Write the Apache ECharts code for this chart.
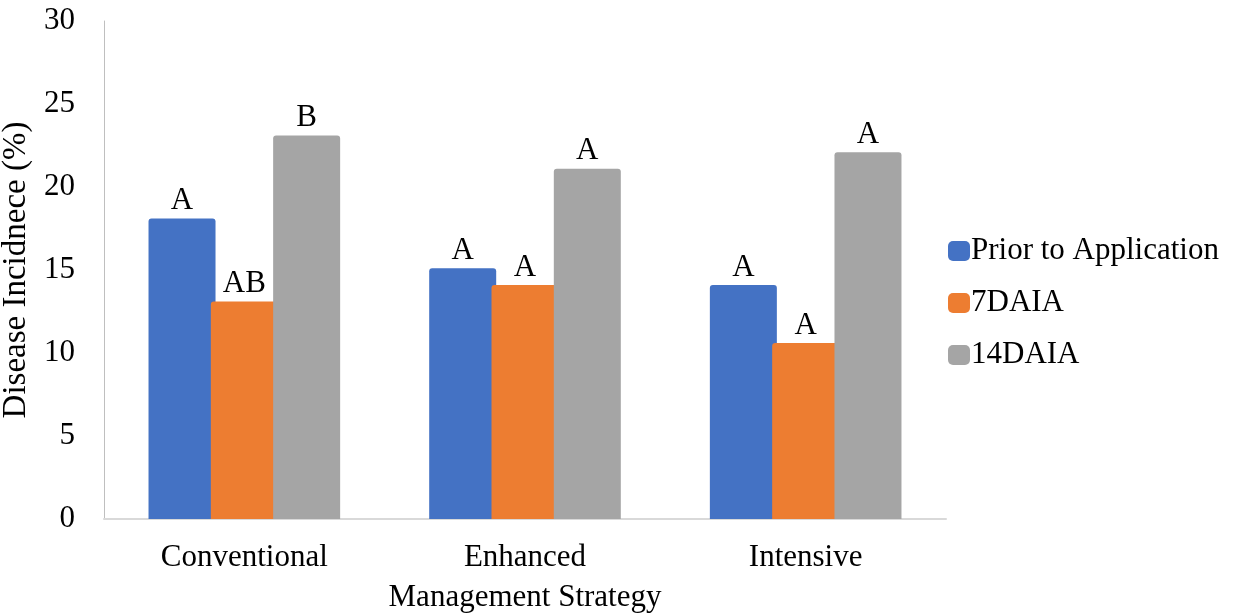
<!DOCTYPE html>
<html>
<head>
<meta charset="utf-8">
<script src="https://cdn.jsdelivr.net/npm/echarts@6/dist/echarts.min.js"></script>
<style>
  html, body { margin: 0; padding: 0; background: #fff; }
  #chart { width: 1236px; height: 615px; }
</style>
</head>
<body>
<div id="chart"></div>
<script>
// Chart data
const categories = ['Conventional', 'Enhanced', 'Intensive'];
const seriesNames = ['Prior to Application', '7DAIA', '14DAIA'];
const priorValues = [18.1, 15.1, 14.1];
const day7Values = [13.1, 14.1, 10.6];
const day14Values = [23.1, 21.1, 22.1];
const priorLetters = ['A', 'A', 'A'];
const day7Letters = ['AB', 'A', 'A'];
const day14Letters = ['B', 'A', 'A'];
const yTicks = [0, 5, 10, 15, 20, 25, 30];

const fontFamily = '"Liberation Serif", "Times New Roman", serif';
const colors = ['#4472C4', '#ED7D31', '#A5A5A5'];

function makeSeries(name, values, letters, color) {
    return {
        name: name,
        type: 'bar',
        data: values,
        barWidth: 67,
        barGap: '-7%',
        itemStyle: { color: color, borderRadius: [3, 3, 0, 0] },
        label: {
            show: true,
            position: 'top',
            distance: 2,
            fontFamily: fontFamily,
            fontSize: 31,
            color: '#000',
            formatter: p => letters[p.dataIndex]
        }
    };
}

const chart = echarts.init(document.getElementById('chart'));
chart.setOption({
    animation: false,
    textStyle: { fontFamily: fontFamily, color: '#000' },
    grid: { left: 104, right: 290, top: 21, bottom: 96, containLabel: false, outerBoundsMode: 'none' },
    legend: {
        orient: 'vertical',
        left: 943,
        top: 230,
        itemWidth: 22,
        itemHeight: 20,
        itemGap: 20,
        icon: 'roundRect',
        textStyle: { fontFamily: fontFamily, fontSize: 31, lineHeight: 32, color: '#000', padding: [0, 0, 0, -4] },
        data: seriesNames
    },
    xAxis: {
        type: 'category',
        data: categories,
        name: 'Management Strategy',
        nameLocation: 'middle',
        nameGap: 63,
        nameTextStyle: { fontFamily: fontFamily, fontSize: 31, color: '#000' },
        axisLine: { lineStyle: { color: '#d9d9d9', width: 2 } },
        axisTick: { show: false },
        axisLabel: { fontFamily: fontFamily, fontSize: 31, color: '#000', margin: 23 }
    },
    yAxis: {
        type: 'value',
        min: yTicks[0],
        max: yTicks[yTicks.length - 1],
        interval: yTicks[1] - yTicks[0],
        name: 'Disease Incidnece (%)',
        nameLocation: 'middle',
        nameGap: 66,
        nameTextStyle: { fontFamily: fontFamily, fontSize: 33, color: '#000', padding: [0, 0, 0, 0] },
        axisLine: { show: true, lineStyle: { color: '#bfbfbf', width: 1 } },
        axisTick: { show: false },
        splitLine: { show: false },
        axisLabel: { fontFamily: fontFamily, fontSize: 31, color: '#000', margin: 29 }
    },
    series: [
        makeSeries(seriesNames[0], priorValues, priorLetters, colors[0]),
        makeSeries(seriesNames[1], day7Values, day7Letters, colors[1]),
        makeSeries(seriesNames[2], day14Values, day14Letters, colors[2])
    ]
});
</script>
</body>
</html>
